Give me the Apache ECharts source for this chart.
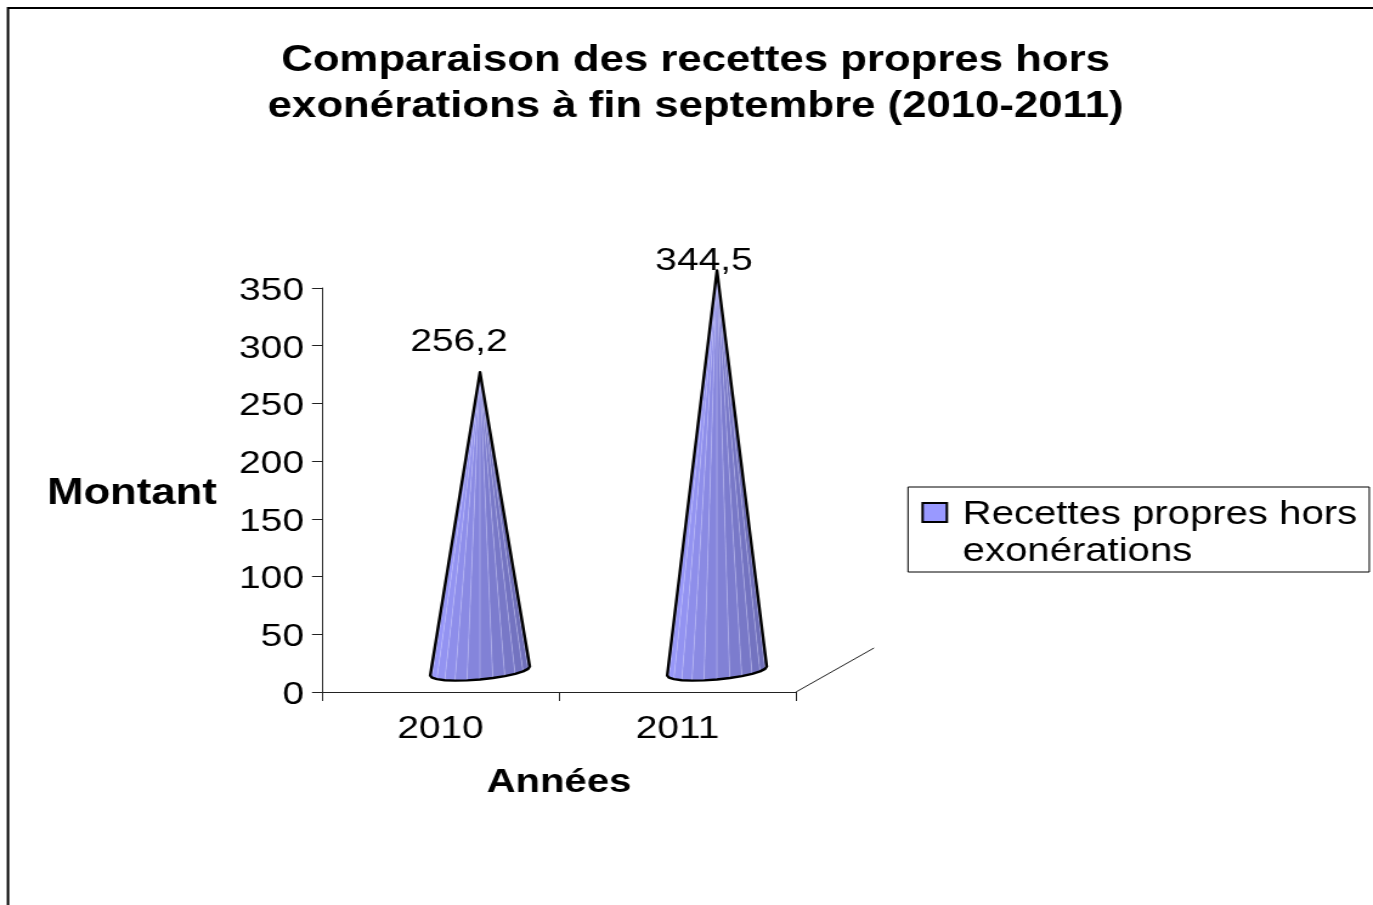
<!DOCTYPE html>
<html>
<head>
<meta charset="utf-8">
<title>Recettes propres</title>
<style>
    html, body { margin: 0; padding: 0; background: #fff; overflow: hidden; }
    /* le graphique d'origine est etire en largeur : 1130 * 1.215 = 1373 */
    #chart { width: 1130px; height: 905px; transform: scaleX(1.215); transform-origin: 0 0; }
</style>
<script src="https://cdn.jsdelivr.net/npm/echarts@6/dist/echarts.min.js"></script>
</head>
<body>
<div id="chart"></div>
<script>
const titleText = 'Comparaison des recettes propres hors\nexonérations à fin septembre (2010-2011)';
const categories = ['2010', '2011'];
const seriesName = 'Recettes propres hors\nexonérations';
const seriesValues = [256.2, 344.5];
const yTicks = { min: 0, max: 350, interval: 50 };

const fontName = '"Liberation Sans", Arial, sans-serif';
const stretch = 1.215;
const sx = x => x / stretch;
// decalage de la profondeur 3D, en px
const depthX = sx(39.5);
const depthY = -24;
// position des etiquettes par rapport au sommet du cone
const labelShift = [[sx(-21), -30], [sx(-13), -9]];

function mix(t) {
    const a = [156, 156, 255], b = [106, 106, 178];
    const c = a.map((v, i) => Math.round(v + (b[i] - v) * t));
    return 'rgb(' + c.join(',') + ')';
}

function renderCone(params, api) {
    const idx = api.value(0);
    const val = api.value(1);
    const top = api.coord([idx, val]);
    const bottom = api.coord([idx, 0]);
    const r = api.size([1, 0])[0] * 0.21;
    const apex = [top[0] + depthX, top[1] + depthY];
    const cx = bottom[0] + depthX;
    const cy = bottom[1] + depthY;

    // bord de la base, demi ellipse de gauche a droite
    const steps = 12;
    const base = [];
    for (let i = 0; i <= steps; i++) {
        const t = Math.PI * i / steps;
        base.push([cx - r * Math.cos(t), cy + 3 + 4.5 * Math.cos(t) + 8.5 * Math.sin(t)]);
    }

    const children = [];
    for (let i = 0; i < steps; i++) {
        children.push({
            type: 'polygon',
            shape: { points: [apex, base[i], base[i + 1]] },
            style: { fill: mix(i / (steps - 1)), stroke: 'rgba(205,205,255,0.45)', lineWidth: 0.6 },
            silent: true
        });
    }
    children.push({
        type: 'polygon',
        shape: { points: [apex].concat(base) },
        style: { fill: 'none', stroke: '#000', lineWidth: 2.4, lineJoin: 'round' },
        silent: true
    });
    children.push({
        type: 'text',
        x: apex[0] + labelShift[idx][0],
        y: apex[1] + labelShift[idx][1],
        style: {
            text: String(val).replace('.', ','),
            font: '32px ' + fontName,
            fill: '#000',
            align: 'center',
            verticalAlign: 'middle'
        },
        silent: true
    });
    return { type: 'group', children: children };
}

function renderDepthLine(params, api) {
    const p = api.coord([1, 0]);
    const x0 = p[0] + api.size([1, 0])[0] / 2;
    return {
        type: 'line',
        shape: { x1: x0, y1: p[1], x2: x0 + sx(78), y2: p[1] - 44 },
        style: { stroke: '#222', lineWidth: 1 },
        silent: true
    };
}

const chart = echarts.init(document.getElementById('chart'));
chart.setOption({
    animation: false,
    backgroundColor: '#fff',
    title: {
        text: titleText,
        left: sx(689.5),
        top: 33,
        textAlign: 'center',
        textStyle: { fontFamily: fontName, fontSize: 36, fontWeight: 'bold', color: '#000', lineHeight: 46 }
    },
    legend: {
        left: sx(908),
        top: 487,
        orient: 'vertical',
        borderColor: '#000',
        borderWidth: 1,
        padding: [8, 10, 1, 11],
        itemWidth: 28,
        itemHeight: 74,
        itemGap: 0,
        selectedMode: false,
        textStyle: { fontFamily: fontName, fontSize: 33, color: '#000', lineHeight: 37 },
        data: [{
            name: seriesName,
            // carre cale sur la premiere ligne, avec du vide autour
            icon: 'path://M0,0 L0,0 M0,7 L20,7 L20,26 L0,26 Z M28,74 L28,74',
            itemStyle: { color: '#9999ff', borderColor: '#000', borderWidth: 2 }
        }]
    },
    graphic: [{
        type: 'rect',
        shape: { x: sx(8), y: 8, width: 1500, height: 1200 },
        style: { fill: 'none', stroke: '#000', lineWidth: 2 },
        silent: true
    }],
    grid: { left: sx(322), right: sx(577), top: 288, bottom: 213 },
    xAxis: {
        type: 'category',
        data: categories,
        name: 'Années',
        nameLocation: 'middle',
        nameGap: 74,
        nameTextStyle: { fontFamily: fontName, fontSize: 33, fontWeight: 'bold', color: '#000' },
        axisLine: { lineStyle: { color: '#222', width: 1 } },
        axisTick: { show: true, length: 9, lineStyle: { color: '#222', width: 1 } },
        axisLabel: { fontFamily: fontName, fontSize: 32, color: '#000', margin: 21 }
    },
    yAxis: {
        type: 'value',
        min: yTicks.min,
        max: yTicks.max,
        interval: yTicks.interval,
        name: 'Montant',
        nameLocation: 'middle',
        nameRotate: 0,
        nameGap: sx(105),
        // verticalAlign top + lineHeight : descend le texte de lineHeight / 2
        nameTextStyle: { fontFamily: fontName, fontSize: 36, fontWeight: 'bold', color: '#000', align: 'right', verticalAlign: 'top', lineHeight: 8 },
        splitLine: { show: false },
        axisLine: { show: true, lineStyle: { color: '#222', width: 1 } },
        axisTick: { show: true, length: sx(10), lineStyle: { color: '#222', width: 1 } },
        axisLabel: { fontFamily: fontName, fontSize: 32, color: '#000', margin: sx(18), verticalAlign: 'top', lineHeight: 6 }
    },
    series: [{
        name: seriesName,
        type: 'custom',
        renderItem: renderCone,
        encode: { x: 0, y: 1 },
        itemStyle: { color: '#9999ff' },
        data: seriesValues.map((v, i) => [i, v]),
        clip: false,
        z: 3
    }, {
        name: 'profondeur',
        type: 'custom',
        renderItem: renderDepthLine,
        data: [[0, 0]],
        clip: false,
        silent: true
    }]
});
</script>
</body>
</html>
